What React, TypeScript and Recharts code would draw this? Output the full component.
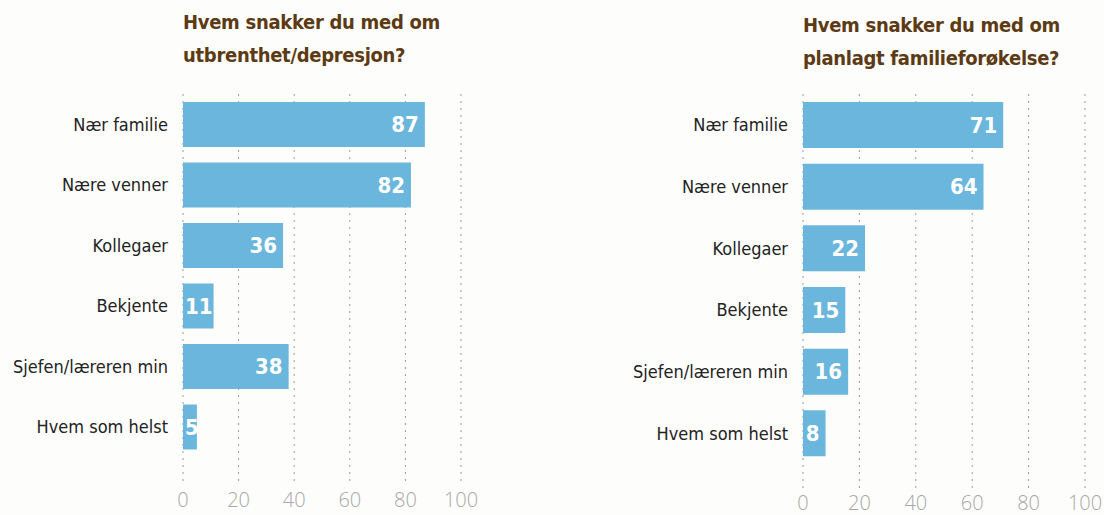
import { BarChart, Bar, XAxis, YAxis, CartesianGrid, LabelList } from "recharts";

const categories = ["Nær familie", "Nære venner", "Kollegaer", "Bekjente", "Sjefen/læreren min", "Hvem som helst"];
const burnoutValues = [87, 82, 36, 11, 38, 5];
const familyPlanValues = [71, 64, 22, 15, 16, 8];
const xTicks = [0, 20, 40, 60, 80, 100];

const titleLeft = ["Hvem snakker du med om", "utbrenthet/depresjon?"];
const titleRight = ["Hvem snakker du med om", "planlagt familieforøkelse?"];

const FONT = '"DejaVu Sans Condensed", "Liberation Sans Narrow", "DejaVu Sans", sans-serif';
const BAR = "#6bb6dc";

const toRows = (vals: number[]) => categories.map((name, i) => ({ name, value: vals[i] }));

// value label inside the bar end; short bars get it pinned to the bar start
function ValueLabel(props: any) {
  const { x, y, width, height, value } = props;
  const txt = String(value);
  const textW = txt.length * 12.5;
  const fits = width >= textW + 8;
  return (
    <text
      x={fits ? x + width - 6 : x + 2}
      y={y + height / 2}
      textAnchor={fits ? "end" : "start"}
      dominantBaseline="central"
      fill="#ffffff"
      style={{ fontFamily: FONT, fontWeight: 700, fontSize: 22 }}
    >
      {txt}
    </text>
  );
}

function Title({ lines, left, top }: { lines: string[]; left: number; top: number }) {
  return (
    <div
      style={{
        position: "absolute",
        left,
        top,
        fontFamily: FONT,
        fontWeight: 700,
        fontSize: 20,
        lineHeight: "33px",
        color: "#5b3a14",
        letterSpacing: -0.3,
      }}
    >
      {lines.map((l) => (
        <div key={l}>{l}</div>
      ))}
    </div>
  );
}

function Panel({
  vals,
  width,
  marginTop,
  marginRight,
  padBottom,
  axisHeight,
  tickGap,
  barSize,
}: {
  vals: number[];
  width: number;
  marginTop: number;
  marginRight: number;
  padBottom: number;
  axisHeight: number;
  tickGap: number;
  barSize: number;
}) {
  return (
    <BarChart
      width={width}
      height={515}
      layout="vertical"
      data={toRows(vals)}
      margin={{ top: marginTop, right: marginRight, bottom: 0, left: 0 }}
    >
      <CartesianGrid horizontal={false} stroke="#9a9a9a" strokeDasharray="2 5" />
      <XAxis
        type="number"
        domain={[0, 100]}
        ticks={xTicks}
        axisLine={false}
        tickLine={false}
        tickSize={0}
        height={axisHeight}
        tickMargin={tickGap}
        tick={{ fill: "#a8a8a8", fontSize: 20, fontFamily: '"Open Sans", sans-serif', fontWeight: 300 }}
      />
      <YAxis
        type="category"
        dataKey="name"
        width={183}
        axisLine={false}
        tickLine={false}
        tickSize={0}
        tickMargin={15}
        padding={{ top: 0, bottom: padBottom }}
        tick={{ fill: "#222", fontSize: 18, fontFamily: FONT }}
      />
      <Bar dataKey="value" fill={BAR} barSize={barSize} isAnimationActive={false}>
        <LabelList dataKey="value" content={ValueLabel} />
      </Bar>
    </BarChart>
  );
}

export default function App() {
  return (
    <div
      style={{
        position: "absolute",
        left: 0,
        top: 0,
        width: 1104,
        height: 515,
        background: "#fdfdfb",
        overflow: "hidden",
      }}
    >
      <Title lines={titleLeft} left={183} top={6} />
      <Title lines={titleRight} left={803} top={9} />
      <div style={{ position: "absolute", left: 0, top: 0 }}>
        <Panel vals={burnoutValues} width={490} marginTop={94} marginRight={29} padBottom={28} axisHeight={30} tickGap={8} barSize={45} />
      </div>
      <div style={{ position: "absolute", left: 620, top: 0 }}>
        <Panel vals={familyPlanValues} width={484} marginTop={94} marginRight={19} padBottom={26} axisHeight={25} tickGap={6} barSize={46} />
      </div>
    </div>
  );
}
